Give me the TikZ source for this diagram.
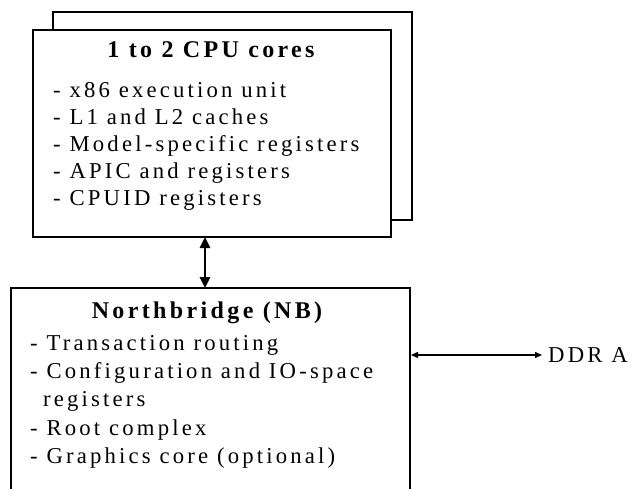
\documentclass[tikz,border=0pt]{standalone}
\usepackage{fontspec}
\setmainfont{Liberation Serif}[LetterSpace=14]
\usetikzlibrary{arrows.meta}
\tikzset{
  box/.style={draw=black, line width=2bp, fill=white},
  ttl/.style={anchor=base, inner sep=0pt, font=\fontsize{24bp}{28bp}\selectfont\bfseries},
  itm/.style={anchor=base west, inner sep=0pt, font=\fontsize{22.7bp}{27bp}\selectfont},
  bus/.style={line width=2.6bp, {Triangle[length=11bp,width=10bp]}-{Triangle[length=11bp,width=10bp]}},
  link/.style={line width=1.4bp, {Triangle[length=7bp,width=6bp]}-{Triangle[length=7bp,width=6bp]}}
}
\begin{document}
\begin{tikzpicture}[x=1bp,y=-1bp]
\useasboundingbox (0,0) rectangle (638,489);
% stacked CPU core boxes
\draw[box] (53,12) rectangle (412,220);
\draw[box] (33,30) rectangle (391,237);
\coordinate (cpuS) at (205,237);
\node[ttl] (cpuT) at (211,58) {1 to 2 CPU cores};
\node[itm] (c1) at (53,98) {- x86 execution unit};
\node[itm] (c2) at (53,125) {- L1 and L2 caches};
\node[itm] (c3) at (53,152) {- Model-specific registers};
\node[itm] (c4) at (53,179) {- APIC and registers};
\node[itm] (c5) at (53,206) {- CPUID registers};
% northbridge box, open at the bottom
\draw[draw=black, line width=2bp] (11,495) -- (11,288) -- (410,288) -- (410,495);
\coordinate (nbN) at (205,288);
\coordinate (nbE) at (411,355);
\node[ttl] (nbT) at (207,318) {Northbridge (NB)};
\node[itm] (n1) at (30,350) {- Transaction routing};
\node[itm] (n2) at (30,378) {- Configuration and IO-space};
\node[itm] (n3) at (43,406.5) {registers};
\node[itm] (n4) at (30,435) {- Root complex};
\node[itm] (n5) at (30,463) {- Graphics core (optional)};
% memory link
\node[itm, anchor=base west] (ddr) at (548,362) {DDR A};
\coordinate (ddrW) at (542,355);
% connectors
\draw[bus] (cpuS) -- (nbN);
\draw[link] (nbE) -- (ddrW);
\end{tikzpicture}
\end{document}
